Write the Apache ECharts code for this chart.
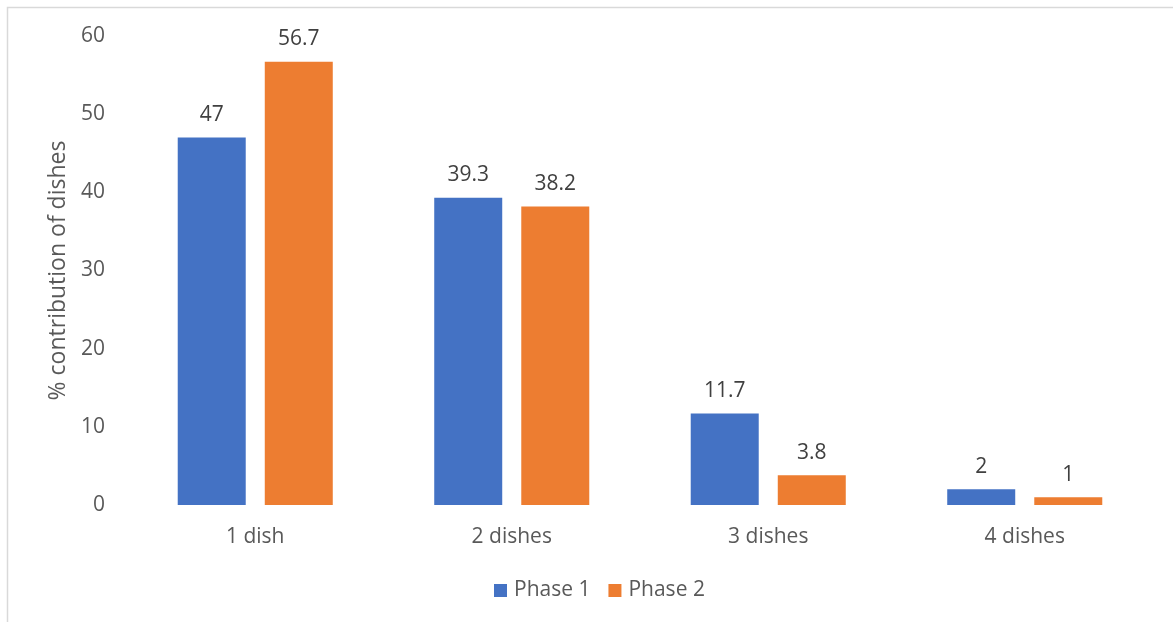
<!DOCTYPE html>
<html><head><meta charset="utf-8">
<script src="https://cdn.jsdelivr.net/npm/echarts@6/dist/echarts.min.js"></script>
<style>html,body{margin:0;padding:0;background:#fff}#c{width:1173px;height:622px}</style>
</head><body><div id="c"></div>
<script>
const categories = ['1 dish', '2 dishes', '3 dishes', '4 dishes'];
const phase1 = [47, 39.3, 11.7, 2];
const phase2 = [56.7, 38.2, 3.8, 1];
const seriesNames = ['Phase 1', 'Phase 2'];
const yTicks = {min: 0, max: 60, interval: 10};
const yAxisTitle = '% contribution of dishes';

const font = '"Open Sans", sans-serif';
const txt = '#595959';
const chart = echarts.init(document.getElementById('c'));
const lbl = {show: true, position: 'top', distance: 12, color: '#404040', fontSize: 21, fontFamily: font};
chart.setOption({
  animation: false,
  graphic: [{type: 'rect', shape: {x: 7.5, y: 7.5, width: 1300, height: 1000}, style: {fill: 'none', stroke: '#d9d9d9', lineWidth: 1.5}, silent: true}],
  grid: {left: 127, right: 20, top: 36, bottom: 117, containLabel: false},
  legend: {bottom: 16, left: 489, itemWidth: 13, itemHeight: 13, itemGap: 18, icon: 'rect',
    textStyle: {color: txt, fontSize: 21, fontFamily: font, padding: [0, 0, 0, 2]}, data: seriesNames},
  xAxis: {type: 'category', data: categories, axisLine: {show: false}, axisTick: {show: false},
    axisLabel: {color: txt, fontSize: 21, fontFamily: font, margin: 22}},
  yAxis: {type: 'value', min: yTicks.min, max: yTicks.max, interval: yTicks.interval,
    name: yAxisTitle, nameLocation: 'middle', nameGap: 56, nameRotate: 90,
    nameTextStyle: {color: txt, fontSize: 23, fontFamily: font},
    axisLine: {show: false}, axisTick: {show: false}, splitLine: {show: false},
    axisLabel: {color: txt, fontSize: 21, fontFamily: font, margin: 22}},
  series: [
    {name: seriesNames[0], type: 'bar', data: phase1, barWidth: 68, barGap: '28%', itemStyle: {color: '#4472C4'}, label: lbl},
    {name: seriesNames[1], type: 'bar', data: phase2, barWidth: 68, itemStyle: {color: '#ED7D31'}, label: lbl}
  ]
});
</script></body></html>
